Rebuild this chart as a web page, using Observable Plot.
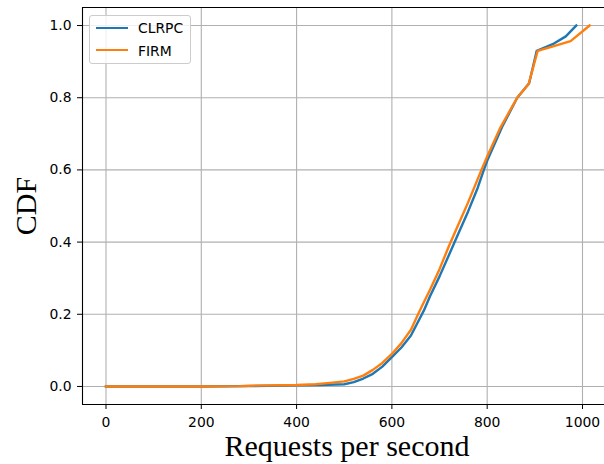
<!DOCTYPE html>
<html>
<head>
<meta charset="utf-8">
<script src="https://cdn.jsdelivr.net/npm/d3@7"></script>
<script src="https://cdn.jsdelivr.net/npm/@observablehq/plot@0.6"></script>
<style>
  html, body { margin: 0; padding: 0; background: #fff; }
  #wrap { position: relative; width: 604px; height: 464px; overflow: hidden; }
  #legend {
    position: absolute; left: 89px; top: 15px; width: 100px; height: 47px;
    border: 1px solid #cccccc; border-radius: 3px; background: rgba(255,255,255,0.8);
    font-family: "DejaVu Sans", sans-serif; font-size: 13.9px; color: #000;
  }
  .item { position: absolute; left: 0; height: 20px; width: 100px; }
  .swatch { position: absolute; left: 6px; width: 32px; height: 0; border-top: 2.4px solid; }
  .lab { position: absolute; left: 48px; top: 0; line-height: 20px; }
</style>
</head>
<body>
<div id="wrap"></div>
<script>
// Data
const seriesNames = ["CLRPC", "FIRM"];
const seriesColors = ["#1f77b4", "#ff7f0e"];

const clrpcX = [0, 100, 200, 300, 400, 450, 500, 520, 540, 560, 580, 600, 620, 640, 667, 680, 700, 720, 740, 760, 780, 793, 800, 831, 863, 888, 904, 940, 965, 987];
const clrpcY = [0, 0, 0, 0.001, 0.003, 0.004, 0.006, 0.012, 0.022, 0.035, 0.055, 0.081, 0.108, 0.141, 0.21, 0.25, 0.305, 0.365, 0.425, 0.485, 0.55, 0.6, 0.625, 0.718, 0.80, 0.84, 0.93, 0.95, 0.97, 1.0];

const firmX = [0, 100, 200, 280, 300, 400, 440, 470, 500, 520, 540, 560, 580, 600, 620, 640, 655, 665, 680, 700, 720, 740, 760, 788, 800, 828, 863, 887, 906, 940, 975, 1015];
const firmY = [0, 0, 0, 0.001, 0.002, 0.004, 0.006, 0.010, 0.014, 0.021, 0.03, 0.046, 0.065, 0.09, 0.12, 0.157, 0.2, 0.228, 0.268, 0.325, 0.39, 0.45, 0.51, 0.6, 0.637, 0.718, 0.80, 0.838, 0.93, 0.943, 0.957, 1.0];

const xTicks = [0, 200, 400, 600, 800, 1000];
const yTicks = [0, 0.2, 0.4, 0.6, 0.8, 1.0];
const xDomain = [-49.3, 1046.2];
const yDomain = [-0.05, 1.05];
const xLabel = "Requests per second";
const yLabel = "CDF";

const rows = [
  ...clrpcX.map((x, i) => ({series: seriesNames[0], x, y: clrpcY[i]})),
  ...firmX.map((x, i) => ({series: seriesNames[1], x, y: firmY[i]}))
];

const chart = Plot.plot({
  width: 604,
  height: 464,
  marginLeft: 82,
  marginRight: 0,
  marginTop: 7,
  marginBottom: 60,
  style: {fontFamily: "DejaVu Sans", fontSize: "13.9px", color: "#000", background: "#fff"},
  x: {domain: xDomain},
  y: {domain: yDomain},
  color: {domain: seriesNames, range: seriesColors},
  marks: [
    Plot.gridX(xTicks, {stroke: "#b0b0b0", strokeOpacity: 1, strokeWidth: 1.1}),
    Plot.gridY(yTicks, {stroke: "#b0b0b0", strokeOpacity: 1, strokeWidth: 1.1}),
    Plot.line(rows, {x: "x", y: "y", z: "series", stroke: "series", strokeWidth: 2.4, strokeLinejoin: "round", strokeLinecap: "square"}),
    Plot.ruleY(yDomain, {stroke: "#000", strokeWidth: 1.1}),
    Plot.ruleX([xDomain[0]], {stroke: "#000", strokeWidth: 1.1}),
    Plot.axisX(xTicks, {tickSize: 5, tickPadding: 8, tickFormat: d => String(d), label: null, stroke: "#000"}),
    Plot.axisY(yTicks, {tickSize: 5, tickPadding: 6, tickFormat: d => d.toFixed(1), label: null, stroke: "#000"}),
    Plot.text([xLabel], {frameAnchor: "bottom", textAnchor: "middle", lineAnchor: "bottom", text: d => d, dy: 51, dx: 3.5, fontFamily: "Liberation Serif", fontSize: 30, fill: "#000"}),
    Plot.text([yLabel], {frameAnchor: "left", textAnchor: "middle", lineAnchor: "middle", text: d => d, rotate: -90, dx: -56, dy: 0, fontFamily: "Liberation Serif", fontSize: 30, fill: "#000"})
  ]
});

const wrap = document.getElementById("wrap");
wrap.appendChild(chart);

const legend = document.createElement("div");
legend.id = "legend";
seriesNames.forEach((name, i) => {
  const item = document.createElement("div");
  item.className = "item";
  item.style.top = (2 + i * 22.6) + "px";
  const sw = document.createElement("div");
  sw.className = "swatch";
  sw.style.borderTopColor = seriesColors[i];
  sw.style.top = "8.5px";
  const lab = document.createElement("div");
  lab.className = "lab";
  lab.textContent = name;
  item.appendChild(sw);
  item.appendChild(lab);
  legend.appendChild(item);
});
wrap.appendChild(legend);
</script>
</body>
</html>
